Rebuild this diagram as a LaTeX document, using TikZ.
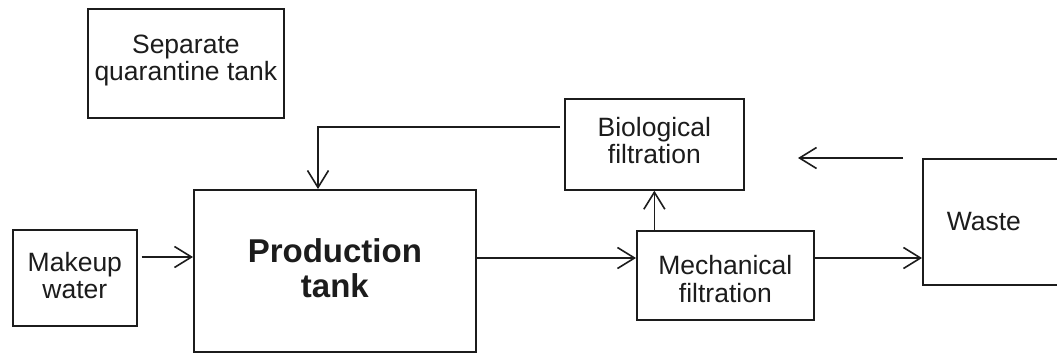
\documentclass[tikz,border=0pt]{standalone}
\usepackage{fontspec}
\setmainfont{Liberation Sans}
\usetikzlibrary{arrows.meta}
\definecolor{ink}{HTML}{1C1C1C}
\newcommand\boxtext[2]{\raisebox{#1}[0pt][0pt]{\makebox[0pt]{\begin{tabular}{@{}c@{}}#2\end{tabular}}}}
\begin{document}
\begin{tikzpicture}[x=1pt,y=-1pt,
  box/.style={draw=ink, line width=1.7pt, rectangle, inner sep=0pt, text=ink,
    font=\fontsize{26.5}{27.5}\selectfont, anchor=north west},
  arr/.style={draw=ink, line width=1.6pt, -{Straight Barb[length=17pt,width=21pt,line width=1.6pt]}}
]
\useasboundingbox (0,0) rectangle (1057,356);
\clip (0,0) rectangle (1057,356);
\fill[white] (0,0) rectangle (1057,356);

\node[box, minimum width=196pt, minimum height=109pt] (quar) at (87,8)
  {\boxtext{-4.5pt}{Separate\\quarantine tank}};
\node[box, minimum width=124pt, minimum height=96pt] (makeup) at (12,229)
  {\boxtext{-8pt}{Makeup\\water}};
\node[box, minimum width=282pt, minimum height=162pt,
  font=\fontsize{33}{35}\selectfont\bfseries] (prod) at (193,189)
  {\boxtext{-8.5pt}{Production\\tank}};
\node[box, minimum width=179pt, minimum height=91pt] (bio) at (564,98)
  {\boxtext{-6.5pt}{Biological\\filtration}};
\node[box, minimum width=177pt, minimum height=89pt] (mech) at (636,230)
  {\boxtext{-14pt}{Mechanical\\filtration}};
\node[box, minimum width=148pt, minimum height=126pt] (waste) at (922,158)
  {\boxtext{-9pt}{\hspace*{-26pt}Waste}};

\path (prod.north west) ++(125,0) coordinate (fbin);
\coordinate (fa1) at (903,158);
\coordinate (fa2) at (798,158);

\draw[arr] (makeup.east |- 0,257) ++(4,0) -- (prod.west |- 0,257);
\draw[arr] (prod.east |- 0,258) -- (mech.west |- 0,258);
\draw[arr] (mech.east |- 0,258) -- (waste.west |- 0,258);
\draw[arr] (mech.north -| bio.south) -- (bio.south);
\draw[arr] (bio.west |- 0,127) ++(-4,0) -| (fbin);
\draw[arr] (fa1) -- (fa2);
\end{tikzpicture}
\end{document}
